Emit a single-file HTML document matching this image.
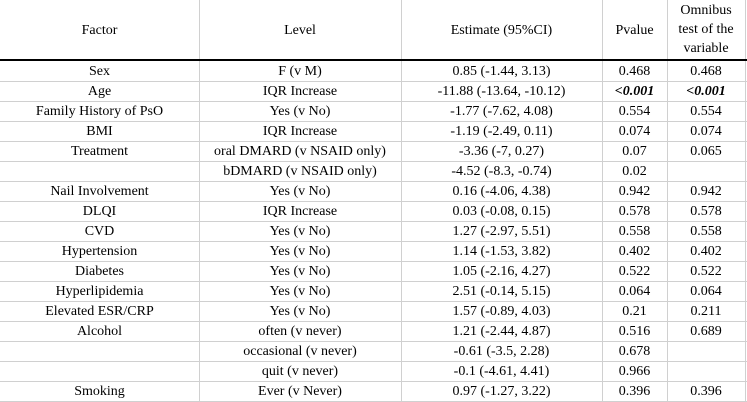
<!DOCTYPE html>
<html><head><style>
body{margin:0;background:#fff;width:747px;height:402px;overflow:hidden;position:relative;font-family:"Liberation Serif","Times New Roman",serif;font-size:14px;color:#000}
.c{position:absolute;text-align:center;line-height:20px;height:20px;white-space:nowrap}
.v{position:absolute;top:0;width:1px;height:402px;background:#d0d0d0}
.h{position:absolute;left:0;width:747px;height:1px;background:#d0d0d0}
</style></head><body>
<div class="v" style="left:199px"></div>
<div class="v" style="left:401px"></div>
<div class="v" style="left:602px"></div>
<div class="v" style="left:667px"></div>
<div class="v" style="left:745px"></div>
<div style="position:absolute;left:0;top:59px;width:747px;height:2px;background:#000"></div>
<div class="c" style="left:0;width:199px;top:21px">Factor</div>
<div class="c" style="left:199px;width:202px;top:21px">Level</div>
<div class="c" style="left:401px;width:201px;top:21px">Estimate (95%CI)</div>
<div class="c" style="left:602px;width:65px;top:21px">Pvalue</div>
<div class="c" style="left:667px;width:78px;top:1px;line-height:19px;height:60px">Omnibus<br>test of the<br>variable</div>
<div id="rows"></div>
<script>
var d=[["Sex","F (v M)","0.85 (-1.44, 3.13)","0.468","0.468"],
["Age","IQR Increase","-11.88 (-13.64, -10.12)","<b><i>&lt;0.001</i></b>","<b><i>&lt;0.001</i></b>"],
["Family History of PsO","Yes (v No)","-1.77 (-7.62, 4.08)","0.554","0.554"],
["BMI","IQR Increase","-1.19 (-2.49, 0.11)","0.074","0.074"],
["Treatment","oral DMARD (v NSAID only)","-3.36 (-7, 0.27)","0.07","0.065"],
["","bDMARD (v NSAID only)","-4.52 (-8.3, -0.74)","0.02",""],
["Nail Involvement","Yes (v No)","0.16 (-4.06, 4.38)","0.942","0.942"],
["DLQI","IQR Increase","0.03 (-0.08, 0.15)","0.578","0.578"],
["CVD","Yes (v No)","1.27 (-2.97, 5.51)","0.558","0.558"],
["Hypertension","Yes (v No)","1.14 (-1.53, 3.82)","0.402","0.402"],
["Diabetes","Yes (v No)","1.05 (-2.16, 4.27)","0.522","0.522"],
["Hyperlipidemia","Yes (v No)","2.51 (-0.14, 5.15)","0.064","0.064"],
["Elevated ESR/CRP","Yes (v No)","1.57 (-0.89, 4.03)","0.21","0.211"],
["Alcohol","often (v never)","1.21 (-2.44, 4.87)","0.516","0.689"],
["","occasional (v never)","-0.61 (-3.5, 2.28)","0.678",""],
["","quit (v never)","-0.1 (-4.61, 4.41)","0.966",""],
["Smoking","Ever (v Never)","0.97 (-1.27, 3.22)","0.396","0.396"]];
var L=[0,199,401,602,667,745],h="";
d.forEach(function(r,i){var t=61+i*20;
for(var j=0;j<5;j++)h+='<div class="c" style="left:'+L[j]+'px;width:'+(L[j+1]-L[j])+'px;top:'+(t+1)+'px">'+r[j]+'</div>';
h+='<div class="h" style="top:'+(t+20)+'px"></div>';});
document.getElementById("rows").innerHTML=h;
</script>
</body></html>
